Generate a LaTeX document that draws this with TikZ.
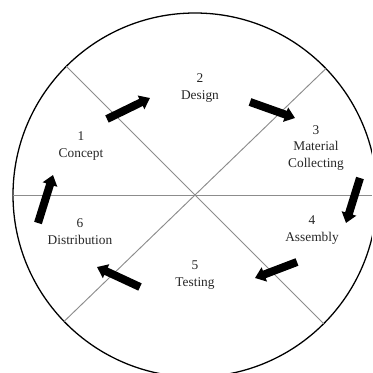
\documentclass[tikz,border=0pt]{standalone}
\usepackage{fontspec}
\setmainfont{Liberation Serif}
\usepackage{xcolor}
\definecolor{divider}{RGB}{140,140,140}
\usepackage{tikz}
\usetikzlibrary{
    arrows.meta,
    positioning,
    calc
}

\tikzset{
    stage/.style={align=center, font=\fontsize{11.4}{14.4}\selectfont, text=black!85},
    flow/.style={line width=0.24cm, -{Triangle[length=0.3cm, width=0.44cm]}, black}
}

\begin{document}
\begin{tikzpicture}
        % Page size
        \useasboundingbox (-5.85, -5.34) rectangle (5.31, 5.85);
        \clip (-5.85, -5.34) rectangle (5.31, 5.85);

        % Outer circle and dividers
        \coordinate (hub) at (0, 0);
        \draw[line width=1.1pt, black] (hub) circle (5.46);
        \draw[divider, line width=0.8pt] (hub) ++(180:5.46) -- ++(0:10.92);
        \draw[divider, line width=0.8pt] (hub) ++(135:5.46) -- ++(-45:10.92);
        \draw[divider, line width=0.8pt] (hub) ++(44:5.46) -- ++(224:10.92);

        % Stages
        \node[stage] (concept) at (-3.42, 1.47) {1\\Concept};
        \node[stage] (design) at (0.15, 3.21) {2\\Design};
        \node[stage] (material) at (3.63, 1.41) {3\\Material\\Collecting};
        \node[stage] (assembly) at (3.51, -1.05) {4\\Assembly};
        \node[stage] (testing) at (0, -2.40) {5\\Testing};
        \node[stage] (distribution) at (-3.45, -1.11) {6\\Distribution};

        % Arrow ends
        \coordinate (a1s) at (-2.64, 2.28);  \coordinate (a1e) at (-1.35, 2.91);
        \coordinate (a2s) at (1.65, 2.79);   \coordinate (a2e) at (3.00, 2.31);
        \coordinate (a3s) at (4.95, 0.51);   \coordinate (a3e) at (4.53, -0.84);
        \coordinate (a4s) at (3.06, -2.01);  \coordinate (a4e) at (1.80, -2.49);
        \coordinate (a5s) at (-1.65, -2.76); \coordinate (a5e) at (-2.94, -2.16);
        \coordinate (a6s) at (-4.71, -0.84); \coordinate (a6e) at (-4.26, 0.60);

        % Cycle arrows
        \draw[flow] (a1s) -- (a1e);
        \draw[flow] (a2s) -- (a2e);
        \draw[flow] (a3s) -- (a3e);
        \draw[flow] (a4s) -- (a4e);
        \draw[flow] (a5s) -- (a5e);
        \draw[flow] (a6s) -- (a6e);
    \end{tikzpicture}
\end{document}
